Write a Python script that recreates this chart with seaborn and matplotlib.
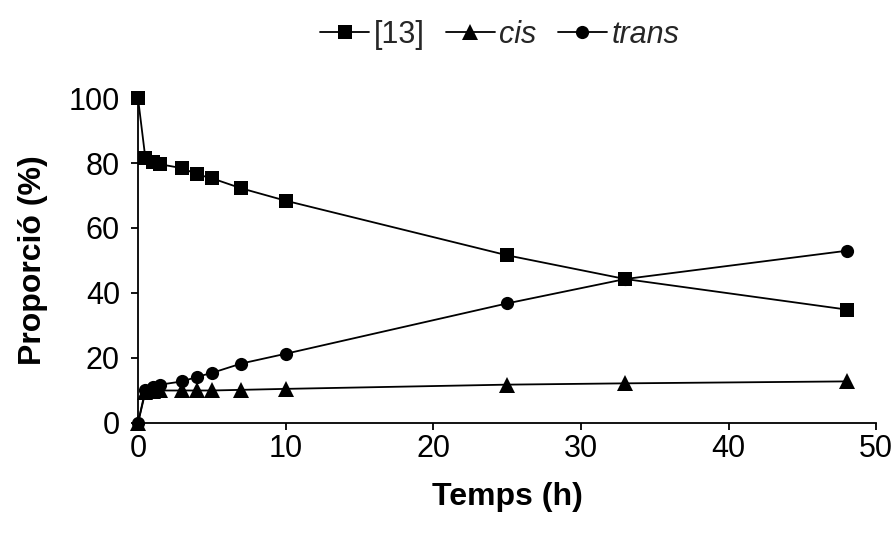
import numpy as np
import pandas as pd
import matplotlib
matplotlib.use('Agg')
import matplotlib.pyplot as plt
import seaborn as sns

# Dades llegides del gràfic
temps = [0, 0.5, 1, 1.5, 3, 4, 5, 7, 10, 25, 33, 48]
comp13 = [100, 81.5, 80.2, 79.6, 78.4, 76.5, 75.3, 72.2, 68.4, 51.6, 44.3, 34.9]
cis = [0, 9.5, 9.8, 10, 10, 10, 10, 10.2, 10.5, 11.8, 12.2, 12.8]
trans = [0, 10.2, 11, 11.8, 12.8, 14.2, 15.4, 18.3, 21.3, 36.8, 44.3, 53.0]

sns.set_theme(style='ticks')
plt.rcParams['font.family'] = ['Liberation Sans', 'DejaVu Sans']

fig = plt.figure(figsize=(8.96, 5.37), dpi=100)
ax = fig.add_axes([0.154, 0.2123, 0.824, 0.6052])

series = [('[13]', comp13, 's', 10.5), ('cis', cis, '^', 11), ('trans', trans, 'o', 9.5)]
for nom, valors, marca, mida in series:
    sns.lineplot(x=temps, y=valors, ax=ax, color='black', linewidth=1.3,
                 marker=marca, markersize=mida, markeredgewidth=0,
                 sort=False, label=nom, clip_on=False)

ax.set_xlim(0, 50)
ax.set_ylim(0, 100)
ax.set_xticks([0, 10, 20, 30, 40, 50])
ax.set_yticks([0, 20, 40, 60, 80, 100])
ax.tick_params(axis='both', labelsize=22, color='black', width=1.3, length=5,
               direction='out', labelcolor='black')
ax.tick_params(axis='y', pad=8)
ax.tick_params(axis='x', pad=3)
for s in ['left', 'bottom']:
    ax.spines[s].set_color('black')
    ax.spines[s].set_linewidth(1.3)
sns.despine(ax=ax)

ax.set_xlabel('Temps (h)', fontsize=23, fontweight='bold', color='black', labelpad=13)
ax.set_ylabel('Proporció (%)', fontsize=23, fontweight='bold', color='black', labelpad=15)

leg = ax.legend(loc='upper center', bbox_to_anchor=(0.49, 1.325), ncol=3, frameon=False,
                fontsize=22, handlelength=1.6, handletextpad=0.15, columnspacing=0.7)
for t in leg.get_texts()[1:]:
    t.set_fontstyle('italic')

fig.savefig('out.png', dpi=100)
